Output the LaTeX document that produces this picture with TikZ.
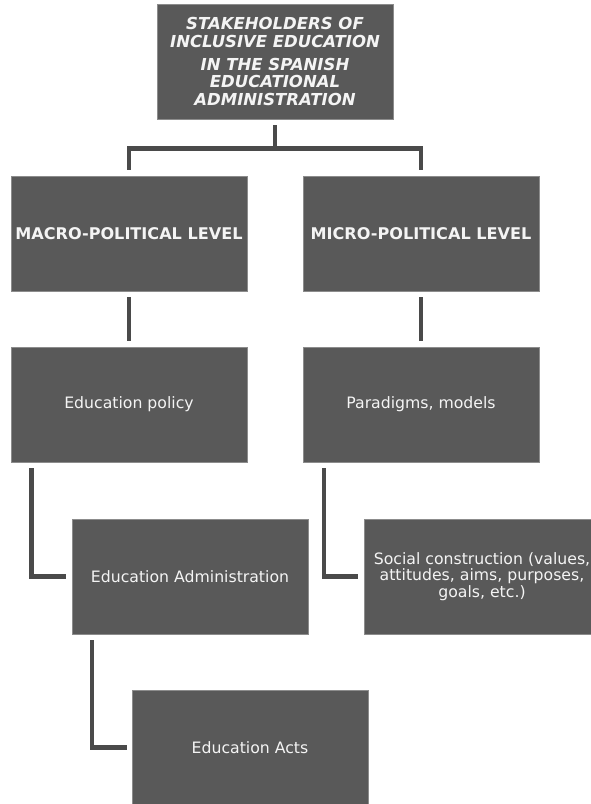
\documentclass[tikz,border=0pt]{standalone}
\usepackage{fontspec}
\setmainfont{DejaVu Sans}
\usetikzlibrary{calc}
\definecolor{boxfill}{HTML}{595959}
\definecolor{boxline}{HTML}{8C8C8C}
\definecolor{conn}{HTML}{4A4A4A}
\definecolor{txt}{HTML}{F4F4F4}
\begin{document}
\begin{tikzpicture}[x=1pt,y=-1pt,
  box/.style={draw=boxline,line width=0.8pt,fill=boxfill,minimum width=236pt,minimum height=115pt,
    inner sep=0pt,text=txt,align=center,font=\fontsize{15.7}{16.2}\selectfont},
  conline/.style={draw=conn,line width=4.5pt,line join=miter,line cap=butt}]
\useasboundingbox (0,0) rectangle (591,804);
\fill[white] (0,0) rectangle (591,804);
\node[box,font=\fontsize{16.5}{17.6}\selectfont\bfseries\itshape] (top) at (275,61.5)
  {STAKEHOLDERS OF\\INCLUSIVE EDUCATION\\[5.5pt]IN THE SPANISH\\EDUCATIONAL\\ADMINISTRATION};
\node[box,font=\fontsize{16.1}{17}\selectfont\bfseries] (macro) at (129,233.5) {MACRO-POLITICAL LEVEL};
\node[box,font=\fontsize{16.1}{17}\selectfont\bfseries] (micro) at (421,233.5) {MICRO-POLITICAL LEVEL};
\node[box] (policy) at (129,404.5) {Education policy};
\node[box] (paradigms) at (421,404.5) {Paradigms, models};
\node[box] (admin) at (190,576.5) {Education Administration};
\node[box] (social) at (482,576.5) {Social construction (values,\\attitudes, aims, purposes,\\goals, etc.)};
\node[box] (acts) at (250,747.5) {Education Acts};
% connectors
\coordinate (j) at ($(top.south)+(0,29)$);
\draw[conline] ($(top.south)+(0,6)$) -- (j);
\draw[conline] ($(macro.north)+(0,-6)$) |- (j) -| ($(micro.north)+(0,-6)$);
\draw[conline] ($(macro.south)+(0,6)$) -- ($(policy.north)+(0,-6)$);
\draw[conline] ($(micro.south)+(0,6)$) -- ($(paradigms.north)+(0,-6)$);
\draw[conline] ($(policy.south west)+(21,6)$) |- ($(admin.west)+(-6,0)$);
\draw[conline] ($(paradigms.south west)+(21.5,6)$) |- ($(social.west)+(-6,0)$);
\draw[conline] ($(admin.south west)+(20.5,6)$) |- ($(acts.west)+(-5,0)$);
\end{tikzpicture}
\end{document}
